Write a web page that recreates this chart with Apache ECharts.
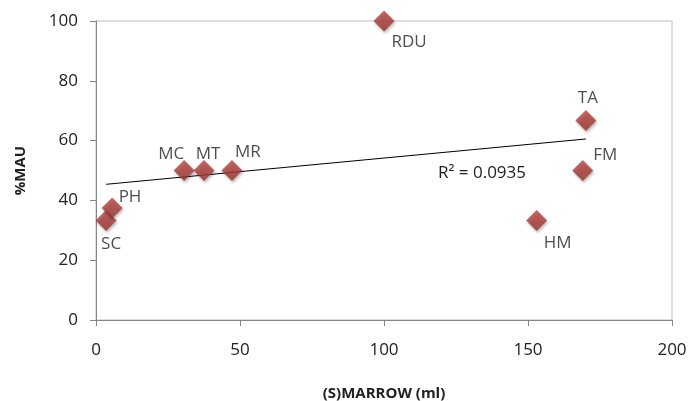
<!DOCTYPE html>
<html>
<head>
<meta charset="utf-8">
<script src="https://cdn.jsdelivr.net/npm/echarts@6/dist/echarts.min.js"></script>
<style>
  html, body { margin: 0; padding: 0; background: #fff; }
  #chart { width: 690px; height: 401px; }
</style>
</head>
<body>
<div id="chart"></div>
<script>
// site names and values
const names = ['SC', 'PH', 'MC', 'MT', 'MR', 'RDU', 'TA', 'FM', 'HM'];
const marrow = [3.5, 5.6, 30.6, 37.5, 47.2, 100, 170.1, 169, 153];
const mau = [33.3, 37.5, 50, 50, 50, 100, 66.7, 50, 33.3];
const r2Text = 'R² = 0.0935';

// where each name sits next to its marker
const labelPos = {
  SC: { position: 'bottom', offset: [5, 0] },
  PH: { position: 'right', offset: [-9, -11] },
  MC: { position: 'top', offset: [-13, 8] },
  MT: { position: 'top', offset: [4, 8] },
  MR: { position: 'top', offset: [16, 6] },
  RDU: { position: 'bottom', offset: [25, -3] },
  TA: { position: 'top', offset: [2, 2] },
  FM: { position: 'right', offset: [-5, -15] },
  HM: { position: 'bottom', offset: [21, -1] }
};

// least squares trendline
function fit(xs, ys) {
  const n = xs.length;
  const mx = xs.reduce((a, b) => a + b, 0) / n;
  const my = ys.reduce((a, b) => a + b, 0) / n;
  let sxy = 0, sxx = 0;
  for (let i = 0; i < n; i++) {
    sxy += (xs[i] - mx) * (ys[i] - my);
    sxx += (xs[i] - mx) * (xs[i] - mx);
  }
  const k = sxy / sxx;
  return { k: k, b: my - k * mx };
}
const line = fit(marrow, mau);
const x0 = Math.min(...marrow), x1 = Math.max(...marrow);

const font = 'Open Sans';
const txt = '#222';
const chart = echarts.init(document.getElementById('chart'), null, { renderer: 'canvas' });

chart.setOption({
  animation: false,
  textStyle: { fontFamily: font },
  grid: {
    left: 96, right: 18, top: 21, bottom: 81,
    containLabel: false, outerBoundsMode: 'none',
    show: true, borderColor: '#bfbfbf', borderWidth: 1
  },
  xAxis: {
    type: 'value', min: 0, max: 200, interval: 50,
    name: '(S)MARROW (ml)', nameLocation: 'middle', nameGap: 66,
    nameTextStyle: { fontSize: 15, fontWeight: 'bold', color: txt, fontFamily: font },
    axisLine: { show: true, lineStyle: { color: '#868686' } },
    axisTick: { show: true, length: 6, lineStyle: { color: '#868686' } },
    axisLabel: { fontSize: 17, color: txt, margin: 22, fontFamily: font },
    splitLine: { show: false }
  },
  yAxis: {
    type: 'value', min: 0, max: 100, interval: 20,
    name: '%MAU', nameLocation: 'middle', nameGap: 68, nameRotate: 90,
    nameTextStyle: { fontSize: 15, fontWeight: 'bold', color: txt, fontFamily: font },
    axisLine: { show: true, lineStyle: { color: '#868686' } },
    axisTick: { show: true, length: 6, lineStyle: { color: '#868686' } },
    axisLabel: { fontSize: 17, color: txt, margin: 18, fontFamily: font },
    splitLine: { show: false }
  },
  series: [
    {
      type: 'line',
      data: [[x0, line.k * x0 + line.b], [x1, line.k * x1 + line.b]],
      symbol: 'none',
      lineStyle: { color: '#000', width: 1 },
      silent: true,
      z: 1
    },
    {
      type: 'scatter',
      symbol: 'diamond',
      symbolSize: 21,
      z: 3,
      itemStyle: {
        color: new echarts.graphic.LinearGradient(0, 0, 0, 1, [
          { offset: 0, color: '#ba4542' },
          { offset: 1, color: '#9a302d' }
        ]),
        shadowColor: 'rgba(0,0,0,0.35)',
        shadowBlur: 3,
        shadowOffsetX: 1,
        shadowOffsetY: 2
      },
      label: {
        show: true, fontSize: 17, color: txt, fontFamily: font,
        formatter: p => p.name
      },
      data: names.map((n, i) => ({
        name: n,
        value: [marrow[i], mau[i]],
        label: labelPos[n]
      }))
    }
  ],
  graphic: [
    {
      type: 'text',
      left: 438, top: 165,
      style: { text: r2Text, fontSize: 17, fill: txt, fontFamily: font }
    }
  ]
});
</script>
</body>
</html>
